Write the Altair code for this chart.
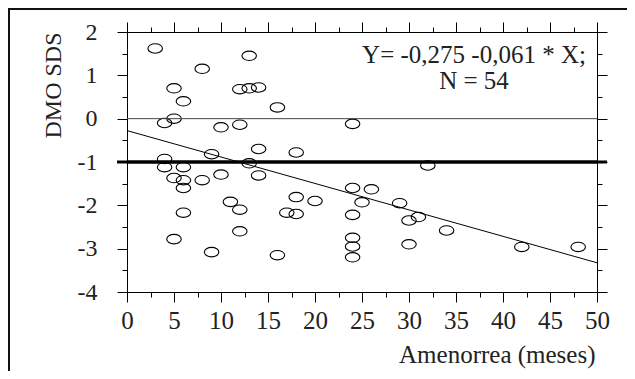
import altair as alt
import pandas as pd

# ---- data ----
amenorrea = [3, 13, 8, 5, 12, 13, 14, 6, 16, 5,
             4, 10, 12, 24, 14, 18, 9, 4, 13, 4,
             6, 5, 6, 8, 10, 14, 6, 11, 12, 18,
             20, 17, 18, 24, 24, 25, 6, 12, 5, 9,
             16, 24, 24, 24, 32, 26, 29, 30, 31, 34,
             30, 42, 48]
dmo_sds = [1.62, 1.45, 1.15, 0.70, 0.68, 0.70, 0.72, 0.40, 0.26, 0.00,
           -0.10, -0.20, -0.14, -0.12, -0.70, -0.78, -0.82, -0.93, -1.03, -1.12,
           -1.12, -1.37, -1.42, -1.42, -1.29, -1.31, -1.60, -1.92, -2.10, -1.81,
           -1.90, -2.17, -2.20, -1.60, -2.22, -1.93, -2.17, -2.60, -2.78, -3.08,
           -3.15, -2.75, -2.95, -3.20, -1.08, -1.63, -1.95, -2.35, -2.27, -2.58,
           -2.90, -2.96, -2.96]

reg_x = [0, 50]
reg_y = [-0.275, -3.325]
ref_x = [0, 50]
zero_y = [0, 0]
cut_y = [-1, -1]

x_major = [0, 5, 10, 15, 20, 25, 30, 35, 40, 45, 50]
x_minor = [2.5, 7.5, 12.5, 17.5, 22.5, 27.5, 32.5, 37.5, 42.5, 47.5]
y_major = [2, 1, 0, -1, -2, -3, -4]
y_minor = [1.5, 0.5, -0.5, -1.5, -2.5, -3.5]

eq_lines = ["Y= -0,275 -0,061 * X;", "N = 54"]
x_title = "Amenorrea (meses)"
y_title = "DMO SDS"

# ---- styling ----
W, H = 470, 260
FONT = "Liberation Serif, Times New Roman, serif"
INK = "#222222"
ELLIPSE = "M-1,0A1,0.65,0,1,1,1,0A1,0.65,0,1,1,-1,0Z"

xs = alt.Scale(domain=[0, 50], nice=False, zero=False)
ys = alt.Scale(domain=[-4, 2], nice=False, zero=False)

common = dict(grid=False, domainColor="black", domainWidth=1, tickColor="black",
              tickWidth=1, labelFlush=False, labelColor=INK, labelFont=FONT)


def minor_axis(orient, values, size):
    return alt.Axis(orient=orient, values=values, tickSize=size, labels=False,
                    title=None, **common)


pts_df = pd.DataFrame({"m": amenorrea, "d": dmo_sds})
reg_df = pd.DataFrame({"m": reg_x, "d": reg_y})
zero_df = pd.DataFrame({"m": ref_x, "d": zero_y})
cut_df = pd.DataFrame({"m": ref_x, "d": cut_y})
one = pd.DataFrame({"a": [0]})

points = alt.Chart(pts_df).mark_point(
    shape=ELLIPSE, size=210, filled=False, stroke="black", strokeWidth=1.1, opacity=1
).encode(
    x=alt.X("m:Q", scale=xs, axis=alt.Axis(
        orient="bottom", values=x_major, tickSize=10, labelExpr="datum.value + ''",
        labelFontSize=25, labelPadding=26, labelBaseline="alphabetic",
        title=x_title, titleFont=FONT, titleFontSize=25, titleFontWeight="normal",
        titleColor=INK, titleX=468, titleY=70, titleAlign="right",
        titleBaseline="alphabetic", **common)),
    y=alt.Y("d:Q", scale=ys, axis=alt.Axis(
        orient="left", values=y_major, tickSize=10, labelExpr="datum.value + ''",
        labelFontSize=24, labelPadding=20, labelBaseline="middle",
        title=y_title, titleFont=FONT, titleFontSize=24, titleFontWeight="normal",
        titleColor=INK, titleAngle=270, titleX=-67, titleY=0, titleAlign="right",
        titleBaseline="alphabetic", **common)),
)

reg = alt.Chart(reg_df).mark_line(color="black", strokeWidth=1).encode(
    x=alt.X("m:Q", scale=xs, axis=minor_axis("bottom", x_minor, 5)),
    y=alt.Y("d:Q", scale=ys, axis=minor_axis("left", y_minor, 5)),
)

zero_line = alt.Chart(zero_df).mark_line(color="#444444", strokeWidth=1).encode(
    x=alt.X("m:Q", scale=xs, axis=minor_axis("top", x_major, 10)),
    y=alt.Y("d:Q", scale=ys, axis=minor_axis("right", y_major, 10)),
)

cut_line = alt.Chart(cut_df).mark_line(color="black", strokeWidth=3).encode(
    x=alt.X("m:Q", scale=xs, axis=minor_axis("top", x_minor, 5)),
    y=alt.Y("d:Q", scale=ys, axis=minor_axis("right", y_minor, 5)),
)

cut_ext = alt.Chart(pd.DataFrame({"d": [cut_y[0]]})).mark_rule(
    color="black", strokeWidth=3
).encode(
    y=alt.Y("d:Q", scale=ys, axis=None),
    x=alt.value(-10), x2=alt.value(W + 10),
)

eq1 = alt.Chart(one).mark_text(
    font=FONT, fontSize=25, color=INK, align="center", baseline="alphabetic"
).encode(text=alt.value(eq_lines[0]), x=alt.value(347), y=alt.value(31))

eq2 = alt.Chart(one).mark_text(
    font=FONT, fontSize=25, color=INK, align="center", baseline="alphabetic"
).encode(text=alt.value(eq_lines[1]), x=alt.value(347), y=alt.value(57))

frame_left = alt.Chart(one).mark_rule(color="#111111", strokeWidth=2).encode(
    x=alt.value(-118), y=alt.value(-24), y2=alt.value(350)
)
frame_top = alt.Chart(one).mark_rule(color="#111111", strokeWidth=2).encode(
    x=alt.value(-119), x2=alt.value(505), y=alt.value(-23)
)

chart = alt.layer(
    points, reg, zero_line, cut_line, cut_ext, eq1, eq2, frame_left, frame_top
).resolve_axis(
    x="independent", y="independent"
).properties(
    width=W, height=H,
    padding={"left": 119, "top": 24, "right": 30, "bottom": 79},
    autosize=alt.AutoSizeParams(type="none"),
    background="white",
).configure_view(strokeWidth=0)

chart.save("out.html", embed_options={"renderer": "svg", "actions": False})
